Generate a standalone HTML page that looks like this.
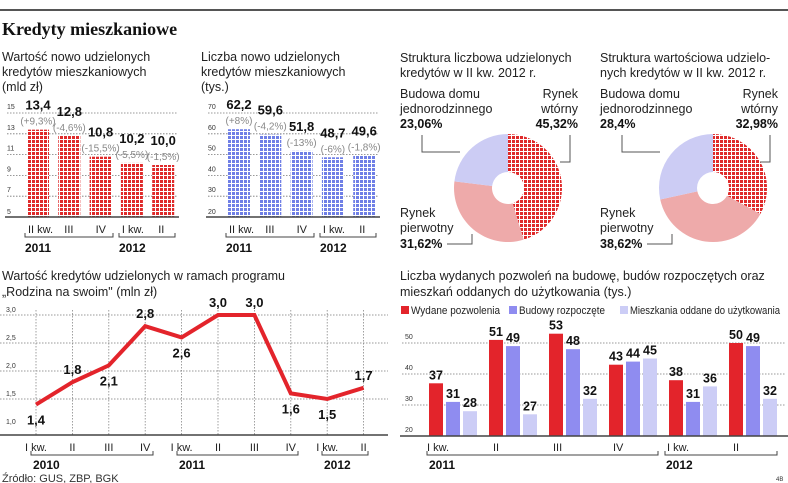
<!DOCTYPE html>
<html><head><meta charset="utf-8"><style>
body{margin:0;background:#fff;width:788px;height:483px;overflow:hidden;font-family:"Liberation Sans",sans-serif}
svg{display:block}
.t{font-size:12.5px;fill:#222}
.b{font-weight:bold;fill:#111}
.g{fill:#888}
.tick{font-size:7px;fill:#333}
</style></head><body>
<svg id="s" width="788" height="483" viewBox="0 0 788 483">
<defs>
<pattern id="pr" width="4" height="4" patternUnits="userSpaceOnUse"><rect width="4" height="4" fill="#fff"/><rect width="3" height="3" fill="#df2a2a"/></pattern>
<pattern id="pb" width="4" height="4" patternUnits="userSpaceOnUse"><rect width="4" height="4" fill="#fff"/><rect width="3" height="3" fill="#6f7fe6"/></pattern>
</defs>
<line x1="0" y1="10" x2="788" y2="10" stroke="#555" stroke-width="2"/>
<text x="2" y="35" style="font-family:'Liberation Serif',serif;font-weight:bold;font-size:18px" fill="#111">Kredyty mieszkaniowe</text>
<g><text class="t" x="2" y="61">Wartość nowo udzielonych</text><text class="t" x="2" y="76">kredytów mieszkaniowych</text><text class="t" x="2" y="91">(mld zł)</text></g>
<g><text class="t" x="201" y="61">Liczba nowo udzielonych</text><text class="t" x="201" y="76">kredytów mieszkaniowych</text><text class="t" x="201" y="91">(tys.)</text></g>
<g><text class="t" x="400" y="62">Struktura liczbowa udzielonych</text><text class="t" x="400" y="77">kredytów w II kw. 2012 r.</text></g>
<g><text class="t" x="600" y="62">Struktura wartościowa udzielo-</text><text class="t" x="600" y="77">nych kredytów w II kw. 2012 r.</text></g>
<g><text class="t" x="2" y="280">Wartość kredytów udzielonych w ramach programu</text><text class="t" x="2" y="296">„Rodzina na swoim" (mln zł)</text></g>
<g><text class="t" x="400" y="280">Liczba wydanych pozwoleń na budowę, budów rozpoczętych oraz</text><text class="t" x="400" y="296">mieszkań oddanych do użytkowania (tys.)</text></g>
<text x="2" y="482" style="font-size:11px" fill="#333">Źródło: GUS, ZBP, BGK</text>
<text x="776" y="481" style="font-size:6px" fill="#333">4B</text>
<g id="g1"></g><g id="g2"></g><g id="g3"></g><g id="g4"></g>
</svg>
<script>
const NS="http://www.w3.org/2000/svg";
function mk(p,tag,at,txt){const e=document.createElementNS(NS,tag);for(const k in at)e.setAttribute(k,at[k]);if(txt!==undefined)e.textContent=txt;p.appendChild(e);return e;}

// ---- Top bar charts ----
const topCats=["II kw.","III","IV","I kw.","II"];
const valMld=[13.4,12.8,10.8,10.2,10.0];
const pctMld=["(+9,3%)","(-4,6%)","(-15,5%)","(-5,5%)","(-1,5%)"];
const valTys=[62.2,59.6,51.8,48.7,49.6];
const pctTys=["(+8%)","(-4,2%)","(-13%)","(-6%)","(-1,8%)"];
const ticksMld=[5,7,9,11,13,15];
const ticksTys=[20,30,40,50,60,70];

function topChart(gid,x0,vals,pcts,ticks,min,max,fill,name){
  const g=document.getElementById(gid);
  const y=v=>217-(v-min)/(max-min)*104;
  ticks.forEach(t=>{
    if(t>min){const l=mk(g,'line',{x1:x0-20,x2:x0+150,y1:y(t),y2:y(t),stroke:'#777','stroke-dasharray':'1.5,1.5','stroke-width':0.8});
    
    }
    const tx=mk(g,'text',{x:x0-20,y:y(t)+(t>min?-4:-3),class:'tick'},String(t));
    
    
  });
  vals.forEach((v,i)=>{
    const bx=x0+i*31.3;
    const r=mk(g,'rect',{x:bx,y:y(v),width:22,height:217-y(v),fill:fill});
    
    
    const vt=mk(g,'text',{x:bx+11,y:y(v)-20,'text-anchor':'middle',class:'b','font-size':'13'},v.toFixed(1).replace('.',','));
    
    
    const pt=mk(g,'text',{x:bx+11,y:y(v)-5,'text-anchor':'middle',class:'g','font-size':'10'},pcts[i]);
    
    
    const cl=mk(g,'text',{x:bx+(i==0||i==3?1:6),y:233,'font-size':'11',fill:'#222'},topCats[i]);
    
    
  });
  const ax=mk(g,'line',{x1:x0-22,x2:x0+152,y1:217,y2:217,stroke:'#444','stroke-width':1.5});
  
  
  const br=mk(g,'path',{d:`M${x0-2} 233v4h88v-4M${x0+92} 233v4h56v-4`,fill:'none',stroke:'#444'});
  
  
  const y1=mk(g,'text',{x:x0-2,y:252,class:'b','font-size':'12'},'2011');
  
  
  const y2=mk(g,'text',{x:x0+92,y:252,class:'b','font-size':'12'},'2012');
  
  
}
topChart('g1',27,valMld,pctMld,ticksMld,5,15,'url(#pr)','value');
topChart('g2',228,valTys,pctTys,ticksTys,20,70,'url(#pb)','count');

// ---- Pies ----
const pieNames=["Rynek wtórny","Rynek pierwotny","Budowa domu jednorodzinnego"];
const pie1=[45.32,31.62,23.06];
const pie2=[32.98,38.62,28.4];
const pie1Lbl=["45,32%","31,62%","23,06%"];
const pie2Lbl=["32,98%","38,62%","28,4%"];
const pieFills=['url(#pr)','#eeaaaa','#ccccf4'];
function pie(cx,cy,lx,rx,vals,lbls,name){
  const g=document.getElementById('g3');
  const R=54,r=16;let a=0;const tot=vals.reduce((s,v)=>s+v,0);
  vals.forEach((v,i)=>{
    const a0=a,a1=a+v/tot*2*Math.PI;a=a1;
    const p=(ang,rad)=>[cx+rad*Math.sin(ang),cy-rad*Math.cos(ang)];
    const [x0,y0]=p(a0,R),[x1,y1]=p(a1,R),[x2,y2]=p(a1,r),[x3,y3]=p(a0,r);
    const lg=(a1-a0)>Math.PI?1:0;
    const s=mk(g,'path',{d:`M${x0} ${y0}A${R} ${R} 0 ${lg} 1 ${x1} ${y1}L${x2} ${y2}A${r} ${r} 0 ${lg} 0 ${x3} ${y3}Z`,fill:pieFills[i]});
    
    
  });
  const L=[
    {x:rx,y:[98,113],p:128,anchor:'end',line:`M${rx-8} 135v27h-10`},
    {x:lx,y:[217,232],p:248,anchor:'start',line:`M${lx+47} 244h25v-10`},
    {x:lx,y:[98,113],p:128,anchor:'start',line:`M${lx+22} 135v17h38`}
  ];
  const words=[["Rynek","wtórny"],["Rynek","pierwotny"],["Budowa domu","jednorodzinnego"]];
  L.forEach((l,i)=>{
    const ln=mk(g,'path',{d:l.line,fill:'none',stroke:'#555'});
    
    
    words[i].forEach((w,j)=>{const t=mk(g,'text',{x:l.x,y:l.y[j],class:'t','text-anchor':l.anchor},w);
      
      });
    const pt=mk(g,'text',{x:l.x,y:l.p,class:'b','font-size':'12.5','text-anchor':l.anchor},lbls[i]);
    
    
  });
}
pie(508,188,400,578,pie1,pie1Lbl,'pie1');
pie(713,188,600,778,pie2,pie2Lbl,'pie2');

// ---- Line chart ----
const lineCats=["I kw.","II","III","IV","I kw.","II","III","IV","I kw.","II"];
const lineVals=[1.4,1.8,2.1,2.8,2.6,3.0,3.0,1.6,1.5,1.7];
const lineTicks=[1.0,1.5,2.0,2.5,3.0];
const lineLblPos=['b','a','b','a','b','a','a','b','b','a'];
(function(){
  const g=document.getElementById('g4');
  const x=i=>36+i*36.4, y=v=>427-(v-1)*56;
  lineTicks.forEach(t=>{
    if(t>1){const l=mk(g,'line',{x1:0,x2:388,y1:y(t),y2:y(t),stroke:'#777','stroke-dasharray':'1.5,1.5','stroke-width':0.8});
    
    }
    const tx=mk(g,'text',{x:6,y:y(t)-3,class:'tick'},t.toFixed(1).replace('.',','));
    
    
  });
  lineCats.forEach((c,i)=>{
    const l=mk(g,'line',{x1:x(i),x2:x(i),y1:310,y2:435,stroke:'#888','stroke-dasharray':'1.5,1.5','stroke-width':0.8});
    
    
    const t=mk(g,'text',{x:x(i),y:451,'text-anchor':'middle','font-size':'11',fill:'#222'},c);
    
    
  });
  const ax=mk(g,'line',{x1:0,x2:388,y1:435,y2:435,stroke:'#444','stroke-width':1.5});
  
  
  const pl=mk(g,'polyline',{points:lineVals.map((v,i)=>x(i)+','+y(v)).join(' '),fill:'none',stroke:'#e3242b','stroke-width':4,'stroke-linejoin':'miter'});
  
  
  lineVals.forEach((v,i)=>{
    const t=mk(g,'text',{x:x(i),y:lineLblPos[i]=='a'?y(v)-8:y(v)+20,'text-anchor':'middle',class:'b','font-size':'13'},v.toFixed(1).replace('.',','));
    
    
  });
  const br=mk(g,'path',{d:'M31 451v4h122v-4M177 451v4h121v-4M322 451v4h46v-4',fill:'none',stroke:'#444'});
  
  
  [['2010',33],['2011',179],['2012',324]].forEach(a=>{const t=mk(g,'text',{x:a[1],y:469,class:'b','font-size':'12'},a[0]);
    
    });
})();

// ---- Grouped bar chart ----
const barCats=["I kw.","II","III","IV","I kw.","II"];
const permits=[37,51,53,43,38,50];
const started=[31,49,48,44,31,49];
const completed=[28,27,32,45,36,32];
const barTicks=[20,30,40,50];
const seriesNames=["Wydane pozwolenia","Budowy rozpoczęte","Mieszkania oddane do użytkowania"];
const seriesColors=['#e3242b','#8f8cf0','#cccdf6'];
(function(){
  const g=document.getElementById('g4');
  const y=v=>436-(v-20)*3.1, gx=i=>429+i*60;
  barTicks.forEach(t=>{
    if(t>20){const l=mk(g,'line',{x1:402,x2:786,y1:y(t),y2:y(t),stroke:'#777','stroke-dasharray':'1.5,1.5','stroke-width':0.8});
    
    }
    const tx=mk(g,'text',{x:405,y:y(t)-4,class:'tick'},String(t));
    
    
  });
  [permits,started,completed].forEach((arr,s)=>{
    arr.forEach((v,i)=>{
      const bx=gx(i)+s*17;
      const r=mk(g,'rect',{x:bx,y:y(v),width:14,height:436-y(v),fill:seriesColors[s]});
      
      
      const t=mk(g,'text',{x:bx+7,y:y(v)-4,'text-anchor':'middle',class:'b','font-size':'12.5'},String(v));
      
      
    });
  });
  barCats.forEach((c,i)=>{const t=mk(g,'text',{x:gx(i)+(i==0||i==4?-2:4),y:451,'font-size':'11',fill:'#222'},c);
    
    });
  const ax=mk(g,'line',{x1:400,x2:788,y1:436,y2:436,stroke:'#444','stroke-width':1.5});
  
  
  const br=mk(g,'path',{d:'M427 451v4h231v-4M665 451v4h112v-4',fill:'none',stroke:'#444'});
  
  
  [['2011',429],['2012',666]].forEach(a=>{const t=mk(g,'text',{x:a[1],y:469,class:'b','font-size':'12'},a[0]);
    
    });
  const lx=[401,509,620], lw=[89,86,150];
  seriesNames.forEach((n,s)=>{
    const r=mk(g,'rect',{x:lx[s],y:306,width:8,height:8,fill:seriesColors[s]});
    
    
    const t=mk(g,'text',{x:lx[s]+10,y:314,'font-size':'11',fill:'#222',textLength:lw[s],lengthAdjust:'spacingAndGlyphs'},n);
    
    
  });
})();
</script>
</body></html>
